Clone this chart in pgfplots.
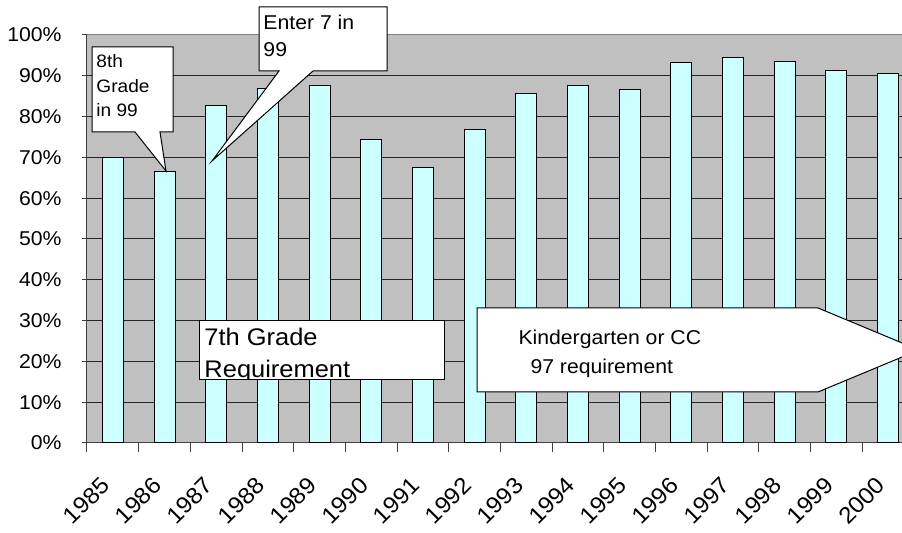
\documentclass[border=0pt]{standalone}
\usepackage{fontspec}
\setmainfont{Liberation Sans}[FakeStretch=1.06]
\usepackage{pgfplots}
\pgfplotsset{compat=1.18}
\definecolor{bg}{RGB}{192,192,192}
\definecolor{barc}{RGB}{204,255,255}
\begin{document}
\begin{tikzpicture}
\begin{axis}[
  at={(43.5pt,45pt)}, anchor=south west,
  scale only axis, width=413.5pt, height=204pt,
  xmin=-0.5, xmax=15.5, ymin=0, ymax=100,
  axis background/.style={fill=bg},
  axis x line*=bottom, axis y line*=left,
  axis line style={draw=black!75, line width=0.5pt},
  xtick={-0.5,0.5,...,15.5},
  x tick label as interval,
  xticklabels={1985,1986,1987,1988,1989,1990,1991,1992,1993,1994,1995,1996,1997,1998,1999,2000},
  ytick={0,10,...,100},
  yticklabels={0\%,10\%,20\%,30\%,40\%,50\%,60\%,70\%,80\%,90\%,100\%},
  ymajorgrids, major grid style={black!85, line width=0.5pt},
  tick align=outside, major tick length=3.5pt,
  tick style={black!75, line width=0.5pt},
  xtick style={/pgfplots/major tick length=4.5pt},
  ytick style={/pgfplots/major tick length=2.5pt},
  yticklabel style={font=\fontsize{10}{12}\selectfont, inner sep=0pt, anchor=east, xshift=-9pt},
  xticklabel style={font=\fontsize{11.5}{12}\selectfont, inner sep=0pt, anchor=north east, xshift=-6.5pt, yshift=-12.5pt, rotate=45},
]
\addplot[ybar, bar width=10.5pt, fill=barc, draw=black, line width=0.5pt] coordinates {
(0,70.0) (1,66.5) (2,82.6) (3,86.9) (4,87.5) (5,74.3) (6,67.6) (7,76.8)
(8,85.6) (9,87.5) (10,86.7) (11,93.2) (12,94.5) (13,93.5) (14,91.2) (15,90.5)};
\end{axis}
\begin{scope}[shift={(0pt,266.5pt)}, x=0.5pt, y=-0.5pt, line width=0.5pt]
  % top border of plot area
  \draw[black!50] (87,35) -- (902,35);
  % callout 1
  \draw[fill=white] (92,47) -- (173,47) -- (173,132) -- (160,132) -- (166,171) -- (135,132) -- (92,132) -- cycle;
  \begin{scope}[every node/.style={anchor=base west, inner sep=0pt, font=\fontsize{9}{11}\selectfont}]
    \node at (96,68) {8th};
    \node at (96,93) {Grade};
    \node at (96,117) {in 99};
  \end{scope}
  % callout 2
  \draw[fill=white] (259,7) -- (387,7) -- (387,71) -- (313,71) -- (212,161) -- (279,71) -- (259,71) -- cycle;
  \begin{scope}[every node/.style={anchor=base west, inner sep=0pt, font=\fontsize{10}{12}\selectfont}]
    \node at (263,29.5) {Enter 7 in};
    \node at (263,57) {99};
  \end{scope}
  % box 3
  \fill[white] (199,321) rectangle (444,380);
  \begin{scope}
    \clip (199,321) rectangle (444,380);
    \node[anchor=base west, inner sep=0pt, font=\fontsize{12}{14}\selectfont] at (204,346) {7th Grade};
    \node[anchor=base west, inner sep=0pt, font=\fontsize{12}{14}\selectfont] at (204,378) {Requirement};
  \end{scope}
  \draw (199,321) rectangle (444,380);
  % arrow 4
  \draw[fill=white] (477,308) -- (818,308) -- (919,350) -- (818,392) -- (477,392) -- cycle;
  \node[anchor=base west, inner sep=0pt, font=\fontsize{10}{12}\selectfont] at (518,345) {Kindergarten or CC};
  \node[anchor=base west, inner sep=0pt, font=\fontsize{10}{12}\selectfont] at (530,374) {97 requirement};
\end{scope}
\pgfresetboundingbox
\path[use as bounding box] (0,0) rectangle (451pt,266.5pt);
\end{tikzpicture}
\end{document}
